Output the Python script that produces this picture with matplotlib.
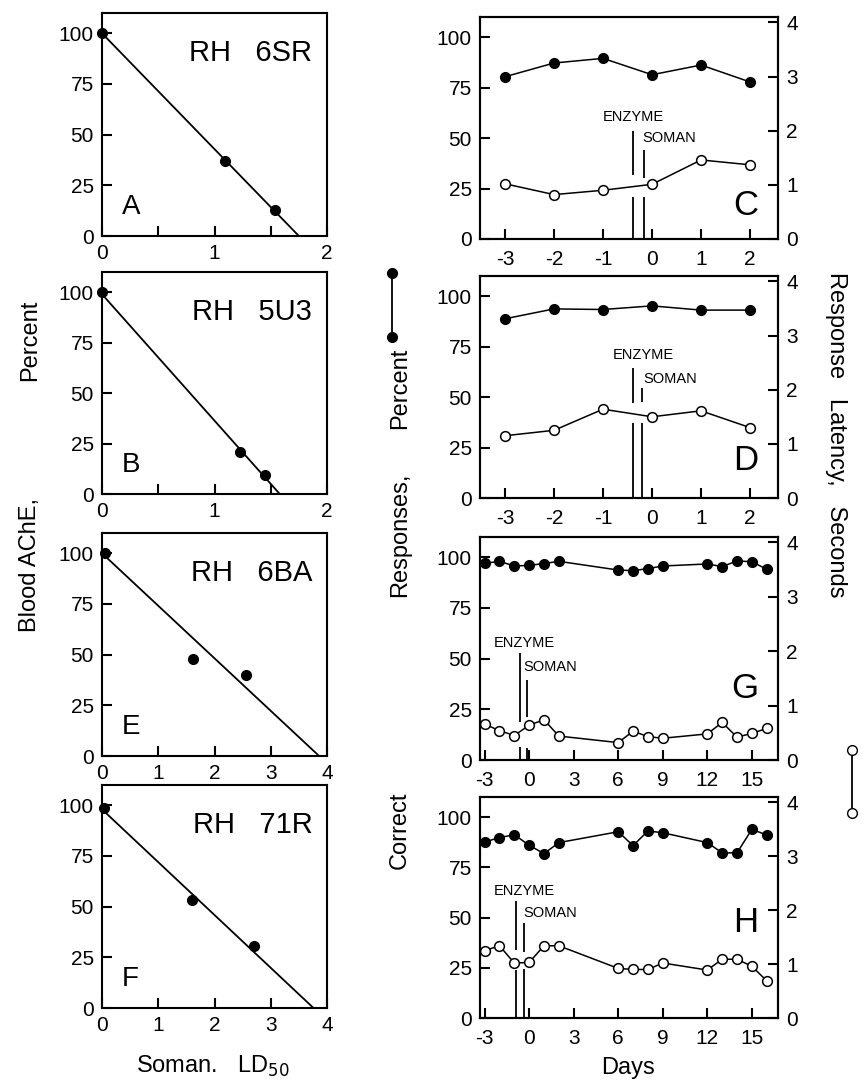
import matplotlib.pyplot as plt
from matplotlib.lines import Line2D

plt.rcParams['font.family'] = ['Liberation Sans', 'DejaVu Sans']
plt.rcParams['axes.unicode_minus'] = False

# ---- left column: blood AChE (%) vs soman dose (LD50) ----
dose_A = [0, 1.09, 1.54]
ache_A = [100, 37, 13]
fit_A_x = [0, 1.75]
fit_A_y = [100, 0]

dose_B = [0, 1.23, 1.45]
ache_B = [100, 21, 9.5]
fit_B_x = [0, 1.58]
fit_B_y = [99, 0]

dose_E = [0.05, 1.62, 2.56]
ache_E = [100, 48, 40]
fit_E_x = [0, 3.86]
fit_E_y = [100, 0]

dose_F = [0.04, 1.6, 2.7]
ache_F = [98.5, 53.5, 30.5]
fit_F_x = [0, 3.76]
fit_F_y = [98, 0]

# ---- right column: correct responses (%) and latency (s) by day ----
days_CD = [-3, -2, -1, 0, 1, 2]
correct_C = [80.4, 87.2, 89.5, 81.4, 86.2, 77.8]
latency_C = [1.02, 0.82, 0.90, 1.01, 1.46, 1.37]
correct_D = [88.8, 93.7, 93.4, 95.2, 93.1, 93.1]
latency_D = [1.15, 1.25, 1.64, 1.50, 1.61, 1.30]

days_GH = [-3, -2, -1, 0, 1, 2, 6, 7, 8, 9, 12, 13, 14, 15, 16]
correct_G = [97.0, 98.0, 95.7, 96.0, 96.9, 98.0, 93.7, 93.4, 94.4, 95.7,
             96.7, 95.4, 98.2, 97.8, 94.1]
latency_G = [0.66, 0.54, 0.45, 0.64, 0.74, 0.44, 0.32, 0.53, 0.43, 0.40,
             0.48, 0.69, 0.42, 0.49, 0.58]
correct_H = [87.6, 89.8, 91.2, 86.0, 81.8, 87.3, 92.7, 85.8, 93.1, 92.2,
             87.3, 82.2, 82.2, 93.9, 91.1]
latency_H = [1.25, 1.34, 1.02, 1.03, 1.34, 1.34, 0.92, 0.90, 0.90, 1.02,
             0.89, 1.09, 1.09, 0.96, 0.69]

# enzyme / soman markers: (day, y from, y to) in percent units
marks_C = [(-0.39, 31.5, 53.7), (-0.39, 0, 20.7), (-0.16, 30, 44.3), (-0.16, 0, 21)]
marks_D = [(-0.39, 47, 64.4), (-0.39, 0, 37), (-0.21, 47.5, 54.5), (-0.21, 0, 37)]
marks_G = [(-0.62, 18.9, 52.9), (-0.62, 0, 6.6), (-0.17, 21.4, 39.5), (-0.17, 0, 5.9)]
marks_H = [(-0.89, 33.7, 58.4), (-0.89, 0, 23.8), (-0.36, 32.8, 47.2), (-0.36, 0, 24.6)]

W, H = 864, 1088
fig = plt.figure(figsize=(W / 100, H / 100), dpi=100)


def box(l, t, r, b):
    return fig.add_axes([l / W, 1 - b / H, (r - l) / W, (b - t) / H])


def style(ax):
    for s in ax.spines.values():
        s.set_linewidth(1.5)
    ax.tick_params(direction='in', length=7, width=1.5, labelsize=15, pad=6)


def left_panel(rect, dose, ache, fx, fy, xmax, name, letter):
    ax = box(*rect)
    style(ax)
    ax.plot(fx, fy, color='black', lw=1.3)
    ax.plot(dose, ache, 'o', color='black', ms=7, clip_on=False, zorder=3)
    ax.set_ylim(0, 110)
    ax.set_xlim(0, xmax)
    ax.set_yticks([0, 25, 50, 75, 100])
    if xmax == 2:
        ax.set_xticks([0, 0.5, 1, 1.5, 2])
        ax.set_xticklabels(['0', '', '1', '', '2'])
    else:
        ax.set_xticks([0, 1, 2, 3, 4])
    ax.text(0.935, 0.82, name, transform=ax.transAxes, ha='right', va='center', fontsize=21)
    ax.text(0.09, 0.13, letter, transform=ax.transAxes, ha='left', va='center', fontsize=20)
    return ax


left_panel((102, 13, 327, 236), dose_A, ache_A, fit_A_x, fit_A_y, 2, 'RH   6SR', 'A')
left_panel((102, 272, 327, 494), dose_B, ache_B, fit_B_x, fit_B_y, 2, 'RH   5U3', 'B')
left_panel((102, 533, 327, 756), dose_E, ache_E, fit_E_x, fit_E_y, 4, 'RH   6BA', 'E')
left_panel((102, 785, 327, 1008), dose_F, ache_F, fit_F_x, fit_F_y, 4, 'RH   71R', 'F')


def right_panel(rect, days, correct, latency, marks, xlim, xticks, letter, letter_y,
                enz_xy, som_xy):
    ax = box(*rect)
    style(ax)
    ax.set_ylim(0, 110)
    ax.set_xlim(*xlim)
    ax.set_yticks([0, 25, 50, 75, 100])
    ax.set_xticks(xticks)
    ax.tick_params(axis='x', pad=8)
    for x, y0, y1 in marks:
        ax.vlines(x, y0, y1, color='black', lw=1.3)
    ax.plot(days, correct, '-o', color='black', lw=1.1, ms=7, clip_on=False, zorder=3)
    ax.text(enz_xy[0], enz_xy[1], 'ENZYME', ha='center', va='center', fontsize=10.5)
    ax.text(som_xy[0], som_xy[1], 'SOMAN', ha='left', va='center', fontsize=10.5)
    ax.text(0.935, letter_y, letter, transform=ax.transAxes, ha='right', va='center',
            fontsize=25)
    ax2 = ax.twinx()
    style(ax2)
    ax2.set_ylim(0, 4.1)
    ax2.set_yticks([0, 1, 2, 3, 4])
    ax2.plot(days, latency, '-o', color='black', lw=1.1, ms=7, mfc='white', mew=1.1,
             clip_on=False, zorder=3)
    return ax


right_panel((480, 17, 778, 239), days_CD, correct_C, latency_C, marks_C,
            (-3.51, 2.57), [-3, -2, -1, 0, 1, 2], 'C', 0.15,
            (-0.39, 60.6), (-0.2, 50))
right_panel((480, 276, 778, 498), days_CD, correct_D, latency_D, marks_D,
            (-3.51, 2.57), [-3, -2, -1, 0, 1, 2], 'D', 0.17,
            (-0.18, 70.8), (-0.18, 59))
right_panel((480, 537, 778, 760), days_GH, correct_G, latency_G, marks_G,
            (-3.31, 16.76), [-3, 0, 3, 6, 9, 12, 15], 'G', 0.32,
            (-0.31, 57.6), (-0.4, 45.7))
right_panel((480, 797, 778, 1018), days_GH, correct_H, latency_H, marks_H,
            (-3.31, 16.76), [-3, 0, 3, 6, 9, 12, 15], 'H', 0.43,
            (-0.31, 63.4), (-0.4, 52.1))

# axis titles (words spread out as in the original figure)
lab = dict(ha='center', va='center', fontsize=17)
fig.text(30 / W, 1 - 340 / H, 'Percent', rotation=90, **lab)
fig.text(30 / W, 1 - 565 / H, 'Blood AChE,', rotation=90, **lab)
fig.text(213 / W, 1 - 1066 / H, 'Soman.   LD$_{50}$', **lab)
fig.text(628 / W, 1 - 1068 / H, 'Days', **lab)
fig.text(400 / W, 1 - 388 / H, 'Percent', rotation=90, **lab)
fig.text(400 / W, 1 - 535 / H, 'Responses,', rotation=90, **lab)
fig.text(400 / W, 1 - 830 / H, 'Correct', rotation=90, **lab)
fig.text(836 / W, 1 - 435 / H, 'Response   Latency,   Seconds', rotation=270, **lab)

# legend keys
fig.add_artist(Line2D([392 / W, 392 / W], [1 - 273 / H, 1 - 337 / H], color='black',
                      lw=1.3, marker='o', ms=7, transform=fig.transFigure))
fig.add_artist(Line2D([852 / W, 852 / W], [1 - 750 / H, 1 - 813 / H], color='black',
                      lw=1.3, marker='o', ms=7, mfc='white', transform=fig.transFigure))

fig.savefig('out.png', dpi=100)
